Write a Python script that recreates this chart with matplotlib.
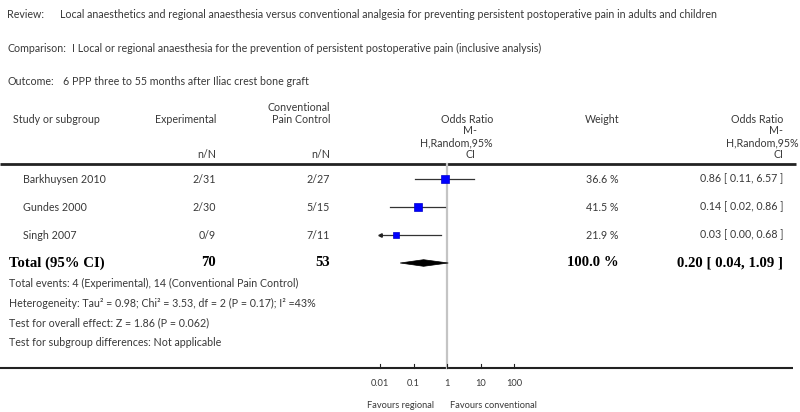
import numpy as np
import matplotlib
matplotlib.use("Agg")
import matplotlib.pyplot as plt
from matplotlib.patches import Polygon

# ---------------- data ----------------
review = "Local anaesthetics and regional anaesthesia versus conventional analgesia for preventing persistent postoperative pain in adults and children"
comparison = "I Local or regional anaesthesia for the prevention of persistent postoperative pain (inclusive analysis)"
outcome = "6 PPP three to 55 months after Iliac crest bone graft"

studies = ["Barkhuysen 2010", "Gundes 2000", "Singh 2007"]
exp_nN = ["2/31", "2/30", "0/9"]
ctl_nN = ["2/27", "5/15", "7/11"]
weights = [36.6, 41.5, 21.9]
odds = [0.86, 0.14, 0.03]
ci_low = [0.11, 0.02, 0.00]
ci_high = [6.57, 0.86, 0.68]

total_exp = 70
total_ctl = 53
total_weight = 100.0
total_or = 0.20
total_low = 0.04
total_high = 1.09

footer = [
    "Total events: 4 (Experimental), 14 (Conventional Pain Control)",
    "Heterogeneity: Tau\u00b2 = 0.98; Chi\u00b2 = 3.53, df = 2 (P = 0.17); I\u00b2 =43%",
    "Test for overall effect: Z = 1.86 (P = 0.062)",
    "Test for subgroup differences: Not applicable",
]

ticks = [0.01, 0.1, 1, 10, 100]
tick_labels = ["0.01", "0.1", "1", "10", "100"]
xmin, xmax = 0.01, 100
left_label = "Favours regional"
right_label = "Favours conventional"

# ---------------- layout ----------------
W, H = 800, 412
fig = plt.figure(figsize=(W / 100, H / 100), dpi=100)
base = fig.add_axes([0, 0, 1, 1])
base.set_xlim(0, W)
base.set_ylim(H, 0)
base.axis("off")

FONT = "Lato"
FS = 7.7
TC = "#383838"
SERIF = "Liberation Serif"
BFS = 10.6

def t(x, y, s, ha="left", bold=False, size=None, serif=False, color=TC):
    base.text(x, y, s, ha=ha, va="center",
              fontsize=size if size else (BFS if bold else FS),
              family=SERIF if serif else FONT,
              fontweight="bold" if bold else "normal",
              color="black" if bold else color)

# header block
t(7, 14, "Review:")
t(60, 14, review)
t(7, 48, "Comparison:")
t(72, 48, comparison)
t(7, 81, "Outcome:")
t(63, 81, outcome)

# column headers
t(13, 119, "Study or subgroup")
t(216, 119, "Experimental", ha="right")
t(330, 107, "Conventional", ha="right")
t(330, 119, "Pain Control", ha="right")
t(216, 155, "n/N", ha="right")
t(330, 155, "n/N", ha="right")
t(493, 119, "Odds Ratio", ha="right")
t(470, 131, "M-", ha="center")
t(493, 143, "H,Random,95%", ha="right")
t(471, 155, "CI", ha="center")
t(619, 119, "Weight", ha="right")
t(783, 119, "Odds Ratio", ha="right")
t(783, 131, "M-", ha="right")
t(799, 143, "H,Random,95%", ha="right")
t(783, 155, "CI", ha="right")

base.plot([0, 796], [164, 164], color="#222222", lw=2.0, solid_capstyle="butt")

row0, dy = 179, 28
for i, name in enumerate(studies):
    y = row0 + dy * i
    t(23, y, name)
    t(216, y, exp_nN[i], ha="right")
    t(330, y, ctl_nN[i], ha="right")
    t(619, y, f"{weights[i]:.1f} %", ha="right")
    t(783, y, f"{odds[i]:.2f} [ {ci_low[i]:.2f}, {ci_high[i]:.2f} ]", ha="right")

ty = row0 + dy * len(studies)
t(9, ty, "Total (95% CI)", bold=True, serif=True)
t(216, ty, f"{total_exp}", ha="right", bold=True, serif=True)
t(330, ty, f"{total_ctl}", ha="right", bold=True, serif=True)
t(619, ty, f"{total_weight:.1f} %", ha="right", bold=True, serif=True)
t(783, ty, f"{total_or:.2f} [ {total_low:.2f}, {total_high:.2f} ]", ha="right",
  bold=True, serif=True)

for j, line in enumerate(footer):
    t(9, [283, 303, 323, 342][j], line)

axis_y = 368
base.plot([0, 793], [axis_y, axis_y], color="#222222", lw=1.5, solid_capstyle="butt")

# ---------------- forest panel ----------------
px0, px1 = 380, 514
fx = fig.add_axes([px0 / W, 0, (px1 - px0) / W, 1])
fx.set_xscale("log")
fx.set_xlim(xmin, xmax)
fx.set_ylim(H, 0)
fx.axis("off")
fx.patch.set_alpha(0)

# line of no effect
fx.plot([1, 1], [164, axis_y], color="#c4c4c4", lw=1.6, zorder=1)

for i in range(len(studies)):
    y = row0 + dy * i
    lo = max(ci_low[i], xmin)
    hi = min(ci_high[i], xmax)
    fx.plot([lo, hi], [y, y], color="#333333", lw=0.9, zorder=2, clip_on=False)
    if ci_low[i] < xmin:
        fx.plot([lo], [y], marker="<", ms=2.5, color="#222222", zorder=3, clip_on=False)
    side = 1.32 * np.sqrt(weights[i])
    fx.plot([odds[i]], [y], marker="s", ms=side * 0.74, color="#0000ff",
            markeredgecolor="#0000cc", mew=0.5, zorder=4, clip_on=False)

dh = 3.3
diamond = Polygon([[total_low, ty], [total_or, ty - dh], [total_high, ty], [total_or, ty + dh]],
                  closed=True, facecolor="black", edgecolor="black", lw=0.5, zorder=4)
fx.add_patch(diamond)

for v, lab in zip(ticks, tick_labels):
    fx.plot([v, v], [axis_y - 4, axis_y], color="#222222", lw=0.8, clip_on=False)
    fx.text(v, 384, lab, ha="center", va="center", fontsize=6.7, family=FONT, color=TC)

fx.text(0.42, 405, left_label, ha="right", va="center", fontsize=6.7, family=FONT, color=TC)
fx.text(1.2, 405, right_label, ha="left", va="center", fontsize=6.7, family=FONT, color=TC)

fig.savefig("out.png", dpi=100)
